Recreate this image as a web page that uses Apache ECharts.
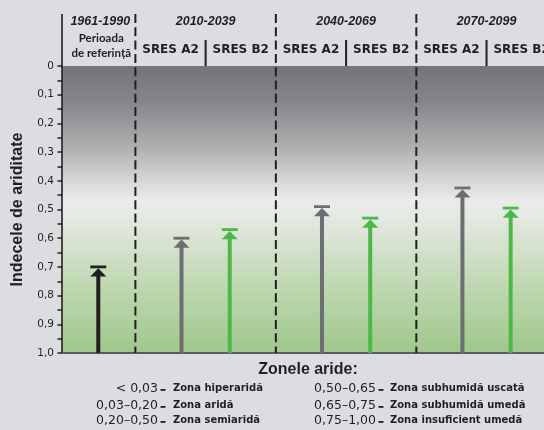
<!DOCTYPE html>
<html>
<head>
<meta charset="utf-8">
<script src="https://cdn.jsdelivr.net/npm/echarts@6/dist/echarts.min.js"></script>
<style>
html,body{margin:0;padding:0;background:#dcdde0;}
#c{width:544px;height:430px;}
</style>
</head>
<body>
<div id="c"></div>
<script>
// ---- data ----
const periods = ['1961-1990', '2010-2039', '2040-2069', '2070-2099'];
const refLabel = ['Perioada', 'de referință'];
const scenarios = ['SRES A2', 'SRES B2'];
const refValues = [0.70];
const a2Values = [0.60, 0.49, 0.425];
const b2Values = [0.57, 0.53, 0.495];
const yTickLabels = ['0', '0,1', '0,2', '0,3', '0,4', '0,5', '0,6', '0,7', '0,8', '0,9', '1,0'];
const yTitle = 'Indecele de ariditate';
const zoneTitle = 'Zonele aride:';
const zoneRanges = ['< 0,03', '0,03–0,20', '0,20–0,50', '0,50–0,65', '0,65–0,75', '0,75–1,00'];
const zoneNames = ['Zona hiperaridă', 'Zona aridă', 'Zona semiaridă', 'Zona subhumidă uscată', 'Zona subhumidă umedă', 'Zona insuficient umedă'];

// slot index: 0 = reference, then A2/B2 pairs per future period
const refData = refValues.map(v => [0, v]);
const a2Data = a2Values.map((v, i) => [2 * i + 1, v]);
const b2Data = b2Values.map((v, i) => [2 * i + 2, v]);
const headerData = periods.map((p, i) => [i === 0 ? 0 : 2 * i - 0.5, i]);

const chart = echarts.init(document.getElementById('c'), null, {renderer: 'canvas'});

function arrowRenderer(color, offset) {
  return function (params, api) {
    const x = api.coord([api.value(0), 0])[0] + offset;
    const yTop = api.coord([0, api.value(1)])[1];
    const yBot = api.coord([0, 1])[1];
    return {
      type: 'group',
      children: [
        {type: 'rect', shape: {x: x - 2, y: yTop + 4, width: 4, height: yBot - yTop - 4}, style: {fill: color}},
        {type: 'rect', shape: {x: x - 8, y: yTop - 1.4, width: 16, height: 2.8}, style: {fill: color}},
        {type: 'polygon', shape: {points: [[x, yTop + 1.4], [x - 8, yTop + 9.6], [x + 8, yTop + 9.6]]}, style: {fill: color}}
      ]
    };
  };
}

const ink = '#231f20';

function headerRenderer(params, api) {
  const i = api.value(1);
  const cs = params.coordSys;
  const top = cs.y;
  const bot = cs.y + cs.height;
  const children = [];
  const xc = api.coord([api.value(0), 0])[0];
  children.push({type: 'text', style: {text: periods[i], x: xc, y: top - 44, align: 'center', verticalAlign: 'middle',
    font: 'italic bold 12.5px "Liberation Sans", Arial, sans-serif', fill: ink}});
  if (i === 0) {
    children.push({type: 'line', shape: {x1: cs.x, y1: top - 52, x2: cs.x, y2: top}, style: {stroke: ink, lineWidth: 1.6}});
    children.push({type: 'text', style: {text: refLabel[0], x: xc + 1, y: top - 28, align: 'center', verticalAlign: 'middle',
      font: 'bold 11.5px Lato, "Liberation Sans", sans-serif', fill: ink}});
    children.push({type: 'text', style: {text: refLabel[1], x: xc + 1, y: top - 13, align: 'center', verticalAlign: 'middle',
      font: 'bold 11.5px Lato, "Liberation Sans", sans-serif', fill: ink}});
  } else {
    const xd = api.coord([2 * i - 1.5, 0])[0];
    children.push({type: 'line', shape: {x1: xd, y1: top - 52, x2: xd, y2: bot}, style: {stroke: ink, lineWidth: 2, lineDash: [9, 4.3]}});
    children.push({type: 'line', shape: {x1: xc, y1: top - 26, x2: xc, y2: top}, style: {stroke: ink, lineWidth: 2}});
    for (let s = 0; s < 2; s++) {
      const xs = api.coord([2 * i - 1 + s, 0])[0];
      children.push({type: 'text', style: {text: scenarios[s], x: xs, y: top - 16, align: 'center', verticalAlign: 'middle',
        font: 'bold 12px "DejaVu Sans", sans-serif', fill: ink}});
    }
  }
  return {type: 'group', children};
}

const graphics = [];
graphics.push({type: 'text', style: {text: zoneTitle, x: 308, y: 370, align: 'center', verticalAlign: 'middle',
  font: 'bold 16px "Liberation Sans", Arial, sans-serif', fill: ink}});
const rowsY = [389, 406, 421];
const colVal = [158, 376];
const colName = [173, 390];
zoneRanges.forEach((r, k) => {
  const col = Math.floor(k / 3), row = k % 3;
  graphics.push({type: 'text', style: {text: r, x: colVal[col], y: rowsY[row], align: 'right', verticalAlign: 'middle',
    font: '12.5px "DejaVu Sans", sans-serif', fill: ink}});
  graphics.push({type: 'rect', shape: {x: colVal[col] + 2.5, y: rowsY[row], width: 5, height: 1.8}, style: {fill: ink}});
  graphics.push({type: 'text', style: {text: zoneNames[k], x: colName[col], y: rowsY[row] - 1, align: 'left', verticalAlign: 'middle',
    font: 'bold 10px "DejaVu Sans", sans-serif', fill: ink}});
});

chart.setOption({
  backgroundColor: '#dcdde0',
  animation: false,
  grid: {
    left: 62, top: 66, right: 0, bottom: 77, show: true, borderWidth: 0,
    backgroundColor: {
      type: 'linear', x: 0, y: 0, x2: 0, y2: 1,
      colorStops: [
        {offset: 0, color: '#747578'},
        {offset: 0.12, color: '#848588'},
        {offset: 0.28, color: '#adaeb0'},
        {offset: 0.40, color: '#d6d7d8'},
        {offset: 0.47, color: '#eaebeb'},
        {offset: 0.52, color: '#e5e9e3'},
        {offset: 0.62, color: '#d6e2cf'},
        {offset: 0.75, color: '#c1d9b4'},
        {offset: 0.88, color: '#afd09e'},
        {offset: 1, color: '#9fc78b'}
      ]
    }
  },
  xAxis: {
    type: 'value', min: -0.545, max: 6.318,
    axisLine: {show: true, onZero: false, lineStyle: {color: '#5a5b5d', width: 2}},
    axisTick: {show: false}, axisLabel: {show: false}, splitLine: {show: false}
  },
  yAxis: {
    type: 'value', inverse: true, min: 0, max: 1, interval: 0.1,
    name: yTitle, nameLocation: 'middle', nameRotate: 90, nameGap: 36,
    nameTextStyle: {fontFamily: '"Liberation Sans", Arial, sans-serif', fontWeight: 'bold', fontSize: 16, color: ink},
    axisLine: {show: true, onZero: false, lineStyle: {color: ink, width: 1.6}},
    axisTick: {show: true, length: 4.5, lineStyle: {color: ink, width: 1.5}},
    minorTick: {show: true, splitNumber: 2, length: 4.5, lineStyle: {color: ink, width: 1.5}},
    axisLabel: {margin: 8, fontFamily: '"DejaVu Sans", sans-serif', fontSize: 10.5, color: ink,
      formatter: v => yTickLabels[Math.round(v * 10)]},
    splitLine: {show: false}
  },
  series: [
    {type: 'custom', name: 'header', clip: false, silent: true, renderItem: headerRenderer, data: headerData, z: 5},
    {type: 'custom', name: 'Perioada de referință', clip: false, renderItem: arrowRenderer('#231f20', -2), data: refData, z: 4},
    {type: 'custom', name: 'SRES A2', clip: false, renderItem: arrowRenderer('#6d6e71', 11), data: a2Data, z: 4},
    {type: 'custom', name: 'SRES B2', clip: false, renderItem: arrowRenderer('#4db848', -11), data: b2Data, z: 4}
  ],
  graphic: graphics
});
</script>
</body>
</html>
